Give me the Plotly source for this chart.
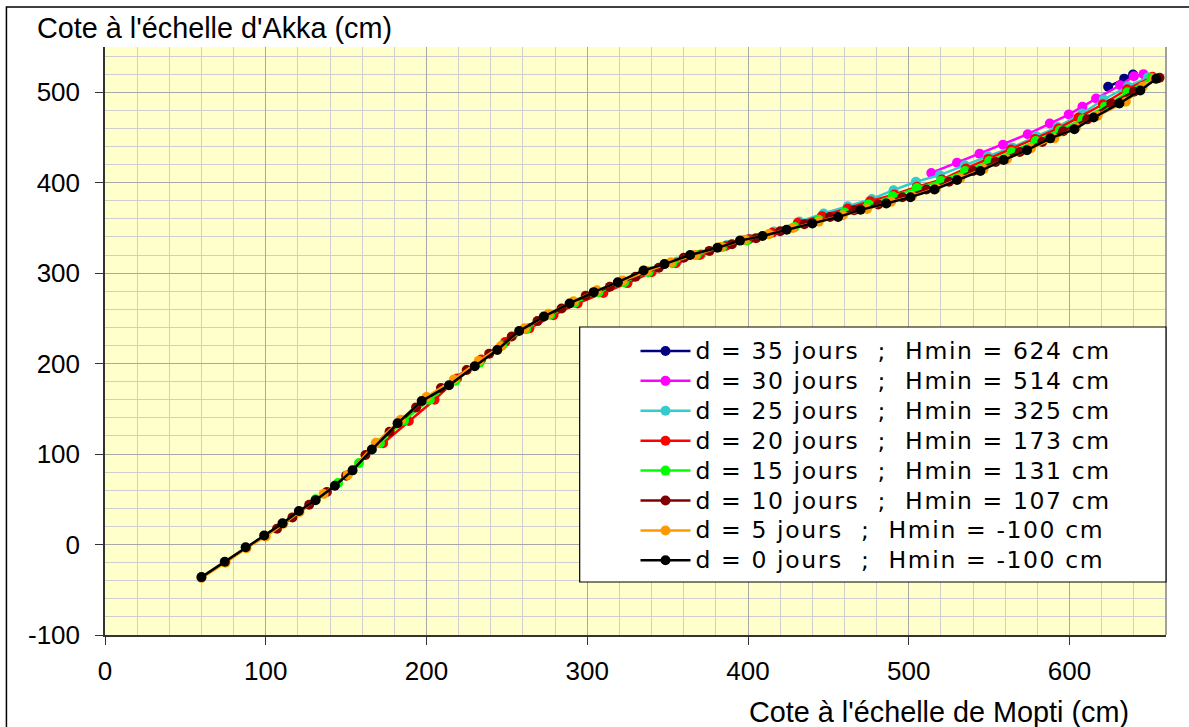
import plotly.graph_objects as go

# Mopti gauge (x) vs Akka gauge (y), one curve per lag d
labels = [
    "d = 35 jours\u00a0\u00a0;\u00a0\u00a0Hmin = 624 cm",
    "d = 30 jours\u00a0\u00a0;\u00a0\u00a0Hmin = 514 cm",
    "d = 25 jours\u00a0\u00a0;\u00a0\u00a0Hmin = 325 cm",
    "d = 20 jours\u00a0\u00a0;\u00a0\u00a0Hmin = 173 cm",
    "d = 15 jours\u00a0\u00a0;\u00a0\u00a0Hmin = 131 cm",
    "d = 10 jours\u00a0\u00a0;\u00a0\u00a0Hmin = 107 cm",
    "d = 5 jours\u00a0\u00a0;\u00a0\u00a0Hmin = -100 cm",
    "d = 0 jours\u00a0\u00a0;\u00a0\u00a0Hmin = -100 cm",
]
colors = ["#000080", "#FF00FF", "#33CCCC", "#FF0000", "#00FF00", "#800000", "#FF9900", "#000000"]

mopti_d35 = [624, 634, 639.5]
akka_d35 = [506, 515, 519.5]

mopti_d30 = [514, 530, 544, 558.6, 574, 587.7, 599.5, 608, 616.5, 631.5, 640, 646]
akka_d30 = [410.8, 422, 432, 442, 453.6, 465.4, 475.3, 484, 493, 507.7, 517.7, 520]

mopti_d25 = [325, 340, 356, 371, 387, 401, 416, 432, 447, 462, 477, 490.5, 504.4, 519.3,
             534.8, 549.3, 564.3, 579.4, 592.6, 607.8, 621.2, 636.3, 648.7]
akka_d25 = [290, 302, 313, 321, 331, 338, 346, 357, 366, 374, 382, 391.7, 401, 408.3,
            419.3, 429.3, 439, 451.3, 461.7, 476.5, 492, 506.6, 516.2]

mopti_d20 = [173, 189, 205, 219, 234, 249, 264, 279, 294, 310, 325, 340, 355, 370, 386,
             400.5, 415, 431, 446, 462, 476, 491, 505, 520.6, 535.5, 549.4, 563.6, 578.5,
             593, 605.5, 620.7, 635.8, 651.6]
akka_d20 = [112, 136.5, 160, 183.6, 204.6, 224, 239, 253.6, 266.5, 278, 289, 301, 311, 320, 330,
            337.6, 344.6, 355.6, 363, 371.5, 379.6, 387, 395.4, 403.5, 415.7, 426.3, 436.7, 448.4,
            460, 472, 486.7, 503.3, 517]

mopti_d15 = [131, 145, 158, 171, 186, 202, 218, 233, 247, 262, 277, 292, 307, 323, 338, 353,
             368, 384, 399, 413, 429, 444, 460, 475, 490, 505, 520, 535, 550, 564, 579, 594,
             608, 622, 636, 651]
akka_d15 = [50, 68, 90, 112, 137, 160, 181, 201, 220, 238, 254, 267, 279, 290, 301, 311,
            320, 329, 336, 343, 351, 359, 367, 376, 385, 394, 402, 413, 424, 434, 446, 458,
            470, 484, 500, 516]

mopti_d10 = [107, 116.6, 127, 138, 150, 162, 177, 193.5, 209, 225, 239, 253, 269, 284, 299,
             314, 330, 344.5, 360, 376, 390, 405, 420, 435, 451, 466, 481, 496, 511, 525,
             540, 554, 569, 583, 596, 611, 626, 640, 656]
akka_d10 = [17.5, 30, 44, 58, 76, 99, 124.6, 151.6, 173, 193, 211, 230, 247, 261, 275,
            285, 296, 306, 317, 324.6, 332, 338.7, 346.4, 354, 362, 369.6, 376, 384, 392.5, 401,
            413, 423, 434, 445, 457, 470, 487.5, 500.6, 516]

mopti_d5 = [60, 75, 88, 100, 111, 121, 136, 151, 168.5, 184, 200, 217, 232.5, 246, 261, 276,
            291.5, 306, 322, 337, 352, 367, 383, 398, 413, 428, 444, 459, 474, 489, 502, 517,
            532, 546.5, 561, 576, 590.5, 604, 617.5, 635, 645.5, 653]
akka_d5 = [-37, -20, -4, 9, 23, 36, 56, 77, 112.5, 138, 163, 182.5, 203, 219, 239, 255,
           269, 281, 292, 302.5, 312, 320, 329, 337, 343, 350, 357, 364, 371, 379, 385, 394,
           405, 415, 426, 438, 449, 461, 474, 489.5, 506, 515]

mopti_d0 = [60, 74.5, 87.5, 99, 110.4, 120.6, 131, 143, 154, 166, 182, 197, 214, 230, 244,
            257.6, 273, 289, 304, 319, 335, 348, 364, 381, 395, 409, 424, 440, 456, 470, 486,
            501, 516, 530, 544.5, 559, 573.5, 588, 603, 615, 631, 644, 654]
akka_d0 = [-36, -19, -3, 10, 23.4, 37, 49, 65, 82, 105, 134, 158.6, 176, 197, 215,
           236, 252, 266.5, 279, 290, 303, 310, 320, 328, 336, 341, 348, 355, 362, 370, 377,
           384, 392.5, 403, 413, 425, 436, 449, 459, 472, 487.5, 502, 515]

series_x = [mopti_d35, mopti_d30, mopti_d25, mopti_d20, mopti_d15, mopti_d10, mopti_d5, mopti_d0]
series_y = [akka_d35, akka_d30, akka_d25, akka_d20, akka_d15, akka_d10, akka_d5, akka_d0]

x_ticks = [0, 100, 200, 300, 400, 500, 600]
y_ticks = [-100, 0, 100, 200, 300, 400, 500]
y_tick_text = ["-100", "0", "100", "200", "300", "400", "500"]

FONT = "Liberation Sans, Arial, sans-serif"
WIDE_FONT = "DejaVu Sans, Verdana, sans-serif"

fig = go.Figure()
for xs, ys, nm, col in zip(series_x, series_y, labels, colors):
    fig.add_trace(go.Scatter(
        x=xs, y=ys, mode="lines+markers",
        name='<span style="font-size:23.5px;letter-spacing:1.6px">' + nm + "</span>",
        line=dict(color=col, width=2.5),
        marker=dict(color=col, size=10),
    ))

fig.update_layout(
    width=1189, height=727,
    margin=dict(l=105, r=23, t=47, b=92),
    paper_bgcolor="white",
    plot_bgcolor="#FFFFCC",
    font=dict(family=FONT, size=26, color="black"),
    showlegend=True,
    legend=dict(
        x=0.500, y=0.517, xanchor="left", yanchor="top",
        bgcolor="rgba(0,0,0,0)", borderwidth=0,
        font=dict(family=WIDE_FONT, size=20.7, color="black"),
        tracegroupgap=0, itemsizing="trace", itemwidth=50,
    ),
    xaxis=dict(
        range=[0, 660], tickmode="array", tickvals=x_ticks,
        showgrid=True, gridcolor="#A8A8A8", gridwidth=1,
        minor=dict(dtick=20, showgrid=True, gridcolor="#CFCFCF", gridwidth=1),
        zeroline=False, showline=True, linecolor="#333333", linewidth=1.5,
        ticks="outside", ticklen=8, tickcolor="#333333",
        ticklabelstandoff=4,
        tickfont=dict(family=FONT, size=26),
    ),
    yaxis=dict(
        range=[-100, 550], tickmode="array", tickvals=y_ticks, ticktext=y_tick_text,
        showgrid=True, gridcolor="#A8A8A8", gridwidth=1,
        minor=dict(dtick=20, showgrid=True, gridcolor="#CFCFCF", gridwidth=1),
        zeroline=False, showline=True, linecolor="#333333", linewidth=1.5,
        ticks="outside", ticklen=8, tickcolor="#333333",
        ticklabelstandoff=10,
        tickfont=dict(family=FONT, size=26),
    ),
    annotations=[
        dict(text="Cote à l'échelle d'Akka (cm)", xref="paper", yref="paper",
             x=-0.066, y=1.0323, xanchor="left", yanchor="middle", showarrow=False,
             font=dict(family=FONT, size=28.8, color="black")),
        dict(text="Cote à l'échelle de Mopti (cm)", xref="paper", yref="paper",
             x=0.967, y=-0.131, xanchor="right", yanchor="middle", showarrow=False,
             font=dict(family=FONT, size=28.8, color="black")),
    ],
    shapes=[
        # outer chart frame
        dict(type="rect", xref="paper", yref="paper", x0=-0.0929, y0=-0.2, x1=1.08, y1=1.068,
             line=dict(color="black", width=1.5), fillcolor="rgba(0,0,0,0)", layer="below"),
        # right edge of plot area
        dict(type="line", xref="paper", yref="paper", x0=1, y0=0, x1=1, y1=1,
             line=dict(color="#808080", width=1.5)),
        # legend frame
        dict(type="rect", xref="paper", yref="paper", x0=0.4474, y0=0.0901, x1=1.0, y1=0.5238,
             line=dict(color="black", width=1.2), fillcolor="white", layer="above"),
    ],
)

fig.write_html("out.html")
